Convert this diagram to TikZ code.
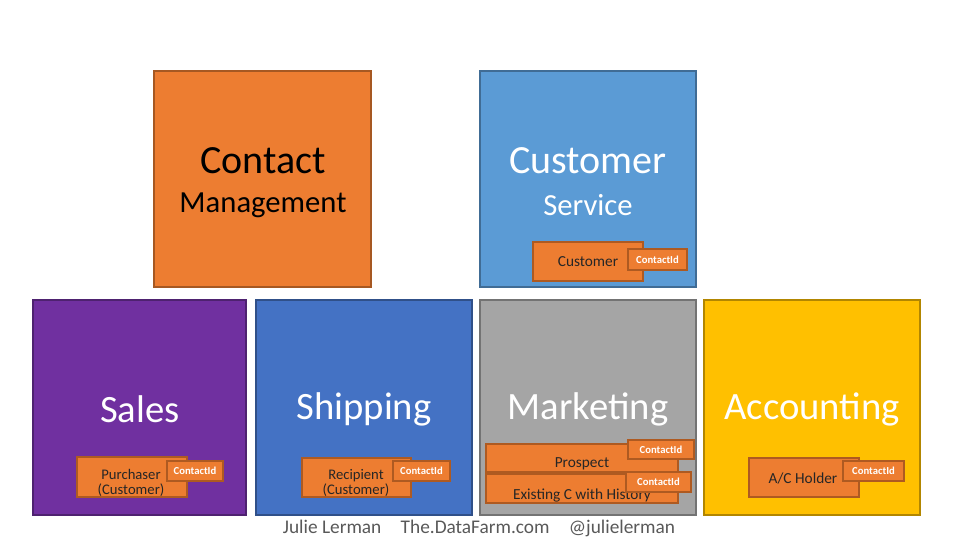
\documentclass[tikz,border=0pt]{standalone}
\usepackage{fontspec}
\setmainfont{Carlito}
\begin{document}
\begin{tikzpicture}[x=0.75pt,y=-0.75pt,
  big/.style={draw=#1!70!black,line width=1.2pt,fill=#1},
  sub/.style={draw=orbd,line width=1.2pt,fill=orng},
  cid/.style={draw=orbd,line width=1.2pt,fill=orng,text=white,font=\bfseries\fontsize{8}{9}\selectfont,inner sep=0pt},
  lbl/.style={font=\fontsize{11.5}{11}\selectfont,text=black!85,align=center,inner sep=0pt}]
\definecolor{orng}{HTML}{ED7D31}\definecolor{orbd}{HTML}{AE5A21}
\definecolor{bluel}{HTML}{5B9BD5}\definecolor{purp}{HTML}{7030A0}
\definecolor{blued}{HTML}{4472C4}\definecolor{gryy}{HTML}{A5A5A5}\definecolor{gold}{HTML}{FFC000}
\useasboundingbox (0,0) rectangle (960,540);
\fill[white] (0,0) rectangle (960,540);
\draw[big=orng] (154,71) rectangle (371,287);
\draw[big=bluel] (480,71) rectangle (696,287);
\draw[big=purp] (33,300) rectangle (246,515);
\draw[big=blued] (256,300) rectangle (472,515);
\draw[big=gryy] (480,300) rectangle (696,515);
\draw[big=gold] (704,300) rectangle (920,515);
\node (t1) at (263,161) {\fontsize{30}{30}\selectfont Contact};
\node (t2) at (263,205) {\fontsize{23}{23}\selectfont Management};
\node[text=white] (t3) at (588,161) {\fontsize{30}{30}\selectfont Customer};
\node[text=white] (t4) at (588,205) {\fontsize{23}{23}\selectfont Service};
\node[text=white] (t5) at (140,409) {\fontsize{29}{29}\selectfont Sales};
\node[text=white] (t6) at (364,409) {\fontsize{29}{29}\selectfont Shipping};
\node[text=white] (t7) at (588,409) {\fontsize{29}{29}\selectfont Marketing};
\node[text=white] (t8) at (812,409) {\fontsize{29}{29}\selectfont Accounting};
% customer
\draw[sub] (533,242) rectangle (643,281);
\node[lbl] (c1) at (588,262) {Customer};
\draw[cid] (628,249) rectangle node (c1i) {ContactId} (687,270);
% sales
\draw[sub] (77,457) rectangle (187,497);
\node[lbl,font=\fontsize{11}{11}\selectfont] (s1) at (131,483) {Purchaser\\(Customer)};
\draw[cid] (167,461) rectangle node (s1i) {ContactId} (223,481);
% shipping
\draw[sub] (302,458) rectangle (411,497);
\node[lbl,font=\fontsize{11}{11}\selectfont] (r1) at (356,483) {Recipient\\(Customer)};
\draw[cid] (393,461) rectangle node (r1i) {ContactId} (450,481);
% marketing
\draw[sub] (486,444) rectangle (678,472);
\node[lbl] (m1) at (582,464) {Prospect};
\draw[cid] (628,440) rectangle node (m1i) {ContactId} (694,459);
\draw[sub] (486,474) rectangle (678,503);
\node[lbl] (m2) at (582,495) {Existing C with History};
\draw[cid] (626,472) rectangle node (m2i) {ContactId} (691,492);
% accounting
\draw[sub] (749,458) rectangle (859,497);
\node[lbl] (a1) at (803,478) {A/C Holder};
\draw[cid] (843,461) rectangle node (a1i) {ContactId} (904,481);
\node[text=black!65,font=\fontsize{14.5}{14.5}\selectfont] (ft) at (479,528) {Julie Lerman\quad The.DataFarm.com\quad @julielerman};
\end{tikzpicture}
\end{document}
